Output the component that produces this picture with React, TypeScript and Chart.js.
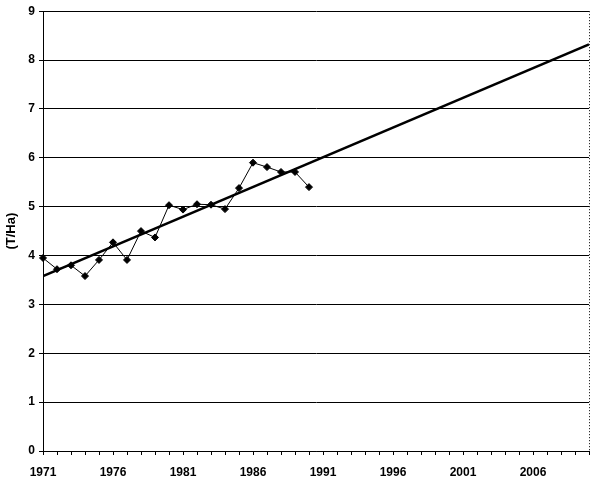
import React, { useEffect, useRef } from "react";
import { Chart, registerables } from "chart.js";

Chart.register(...registerables);

const years = [1971, 1972, 1973, 1974, 1975, 1976, 1977, 1978, 1979, 1980, 1981, 1982, 1983, 1984, 1985, 1986, 1987, 1988, 1989, 1990];
const yields = [3.95, 3.72, 3.8, 3.58, 3.91, 4.27, 3.91, 4.5, 4.37, 5.03, 4.94, 5.05, 5.04, 4.95, 5.38, 5.9, 5.81, 5.71, 5.71, 5.4];
const trendYears = [1971, 2010];
const trendValues = [3.58, 8.32];
const labelYears = [1971, 1976, 1981, 1986, 1991, 1996, 2001, 2006];
const yTicks = [0, 1, 2, 3, 4, 5, 6, 7, 8, 9];
const yTitle = "(T/Ha)";

const FONT = "'Liberation Sans', Arial, sans-serif";

export default function App() {
  const ref = useRef<HTMLCanvasElement | null>(null);
  useEffect(() => {
    if (!ref.current) return;
    const rightBorder = {
      id: "rightBorder",
      afterDraw(chart: any) {
        const { ctx, chartArea } = chart;
        ctx.save();
        ctx.strokeStyle = "#000";
        ctx.lineWidth = 1;
        ctx.setLineDash([1, 2]);
        ctx.beginPath();
        ctx.moveTo(Math.round(chartArea.right) + 0.5, chartArea.top);
        ctx.lineTo(Math.round(chartArea.right) + 0.5, chartArea.bottom);
        ctx.stroke();
        ctx.restore();
      },
    };
    const chart = new Chart(ref.current, {
      type: "line",
      data: {
        datasets: [
          {
            data: years.map((x, i) => ({ x, y: yields[i] })),
            borderColor: "#000",
            backgroundColor: "#000",
            borderWidth: 1,
            pointStyle: "rectRot",
            pointRadius: 3.5,
            pointBackgroundColor: "#000",
            pointBorderColor: "#000",
            tension: 0,
            clip: false,
          },
          {
            data: trendYears.map((x, i) => ({ x, y: trendValues[i] })),
            borderColor: "#000",
            borderWidth: 2.5,
            pointRadius: 0,
            tension: 0,
          },
        ],
      },
      options: {
        animation: false,
        responsive: true,
        maintainAspectRatio: false,
        layout: { padding: { top: 11, right: 7, left: 0, bottom: 0 } },
        plugins: { legend: { display: false }, tooltip: { enabled: false } },
        scales: {
          x: {
            type: "linear",
            min: 1971,
            max: 2010,
            afterBuildTicks: (scale: any) => {
              const t = [];
              for (let v = 1971; v <= 2010; v++) t.push({ value: v });
              scale.ticks = t;
            },
            afterFit: (scale: any) => {
              scale.height = 32;
            },
            ticks: {
              autoSkip: false,
              maxRotation: 0,
              padding: 10,
              color: "#000",
              font: { family: FONT, size: 12, weight: "bold" },
              callback: (v: any) => (labelYears.includes(Number(v)) ? String(v) : ""),
            },
            grid: { drawOnChartArea: false, drawTicks: true, tickLength: 4, color: "#000" },
            border: { display: true, color: "#000", width: 1 },
          },
          y: {
            min: 0,
            max: 9,
            afterBuildTicks: (scale: any) => {
              scale.ticks = yTicks.map((v) => ({ value: v }));
            },
            afterFit: (scale: any) => {
              scale.width = 43;
            },
            ticks: {
              padding: 4,
              color: "#000",
              font: { family: FONT, size: 12, weight: "bold" },
            },
            grid: { color: "#000", lineWidth: 1, tickLength: 4 },
            border: { display: true, color: "#000", width: 1 },
            title: {
              display: true,
              text: yTitle,
              color: "#000",
              padding: { top: 4, bottom: 0 },
              font: { family: FONT, size: 13, weight: "bold" },
            },
          },
        },
      },
      plugins: [rightBorder],
    });
    return () => chart.destroy();
  }, []);
  return (
    <div style={{ position: "fixed", left: 0, top: 0, width: 599, height: 483, background: "#fff" }}>
      <canvas ref={ref} />
    </div>
  );
}
